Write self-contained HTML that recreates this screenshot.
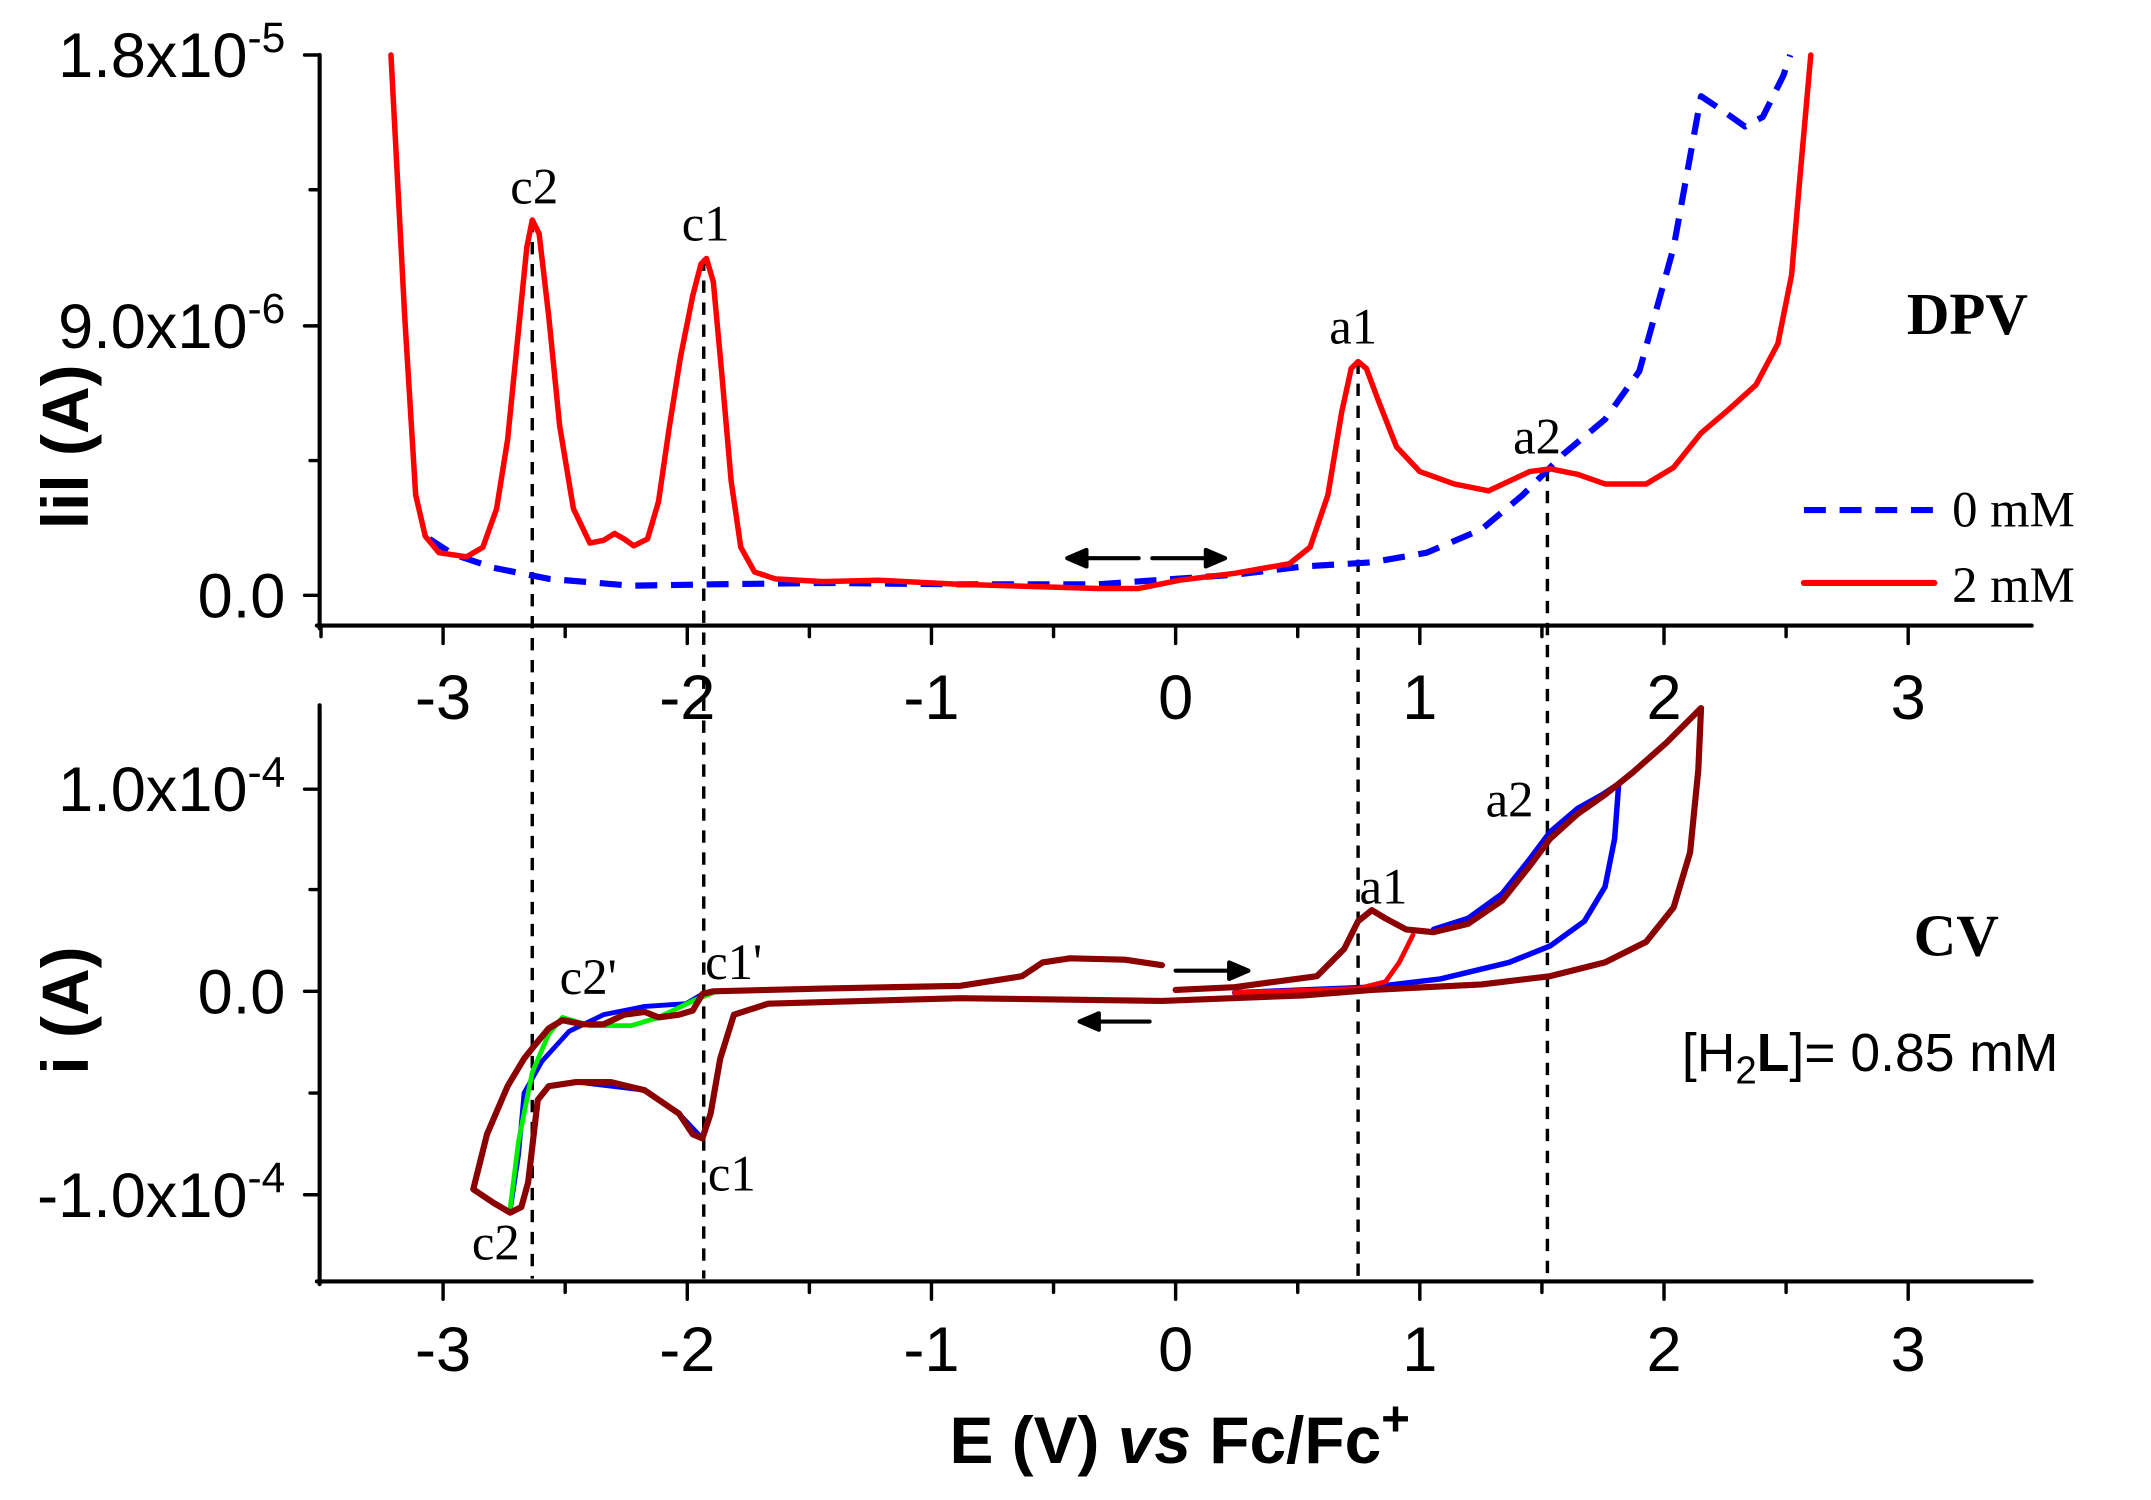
<!DOCTYPE html>
<html><head><style>html,body{margin:0;padding:0;background:#fff}svg{display:block}</style></head><body>
<svg width="2151" height="1500" viewBox="0 0 1568 1091" preserveAspectRatio="none" xmlns="http://www.w3.org/2000/svg" stroke-linejoin="round" stroke-linecap="round">
<g stroke="#000" stroke-width="3" fill="none">
<line x1="233" y1="40" x2="233" y2="457"/><line x1="231" y1="455" x2="1481" y2="455"/>
<line x1="233" y1="513" x2="233" y2="934"/><line x1="231" y1="932" x2="1481" y2="932"/>
</g>
<g stroke="#000" stroke-width="2.5">
<line x1="233" y1="40" x2="222" y2="40"/><line x1="233" y1="237" x2="222" y2="237"/><line x1="233" y1="433" x2="222" y2="433"/>
<line x1="233" y1="138" x2="226" y2="138"/><line x1="233" y1="335" x2="226" y2="335"/>
<line x1="233" y1="574" x2="222" y2="574"/><line x1="233" y1="721" x2="222" y2="721"/><line x1="233" y1="869" x2="222" y2="869"/>
<line x1="233" y1="647" x2="226" y2="647"/><line x1="233" y1="795" x2="226" y2="795"/>
</g>
<g stroke="#000" stroke-width="2.5">
<line x1="323" y1="455" x2="323" y2="468"/><line x1="501" y1="455" x2="501" y2="468"/><line x1="679" y1="455" x2="679" y2="468"/><line x1="857" y1="455" x2="857" y2="468"/><line x1="1035" y1="455" x2="1035" y2="468"/><line x1="1213" y1="455" x2="1213" y2="468"/><line x1="1391" y1="455" x2="1391" y2="468"/>
<line x1="412" y1="455" x2="412" y2="463"/><line x1="590" y1="455" x2="590" y2="463"/><line x1="768" y1="455" x2="768" y2="463"/><line x1="946" y1="455" x2="946" y2="463"/><line x1="1124" y1="455" x2="1124" y2="463"/><line x1="1302" y1="455" x2="1302" y2="463"/><line x1="234" y1="455" x2="234" y2="463"/>
<line x1="323" y1="932" x2="323" y2="945"/><line x1="501" y1="932" x2="501" y2="945"/><line x1="679" y1="932" x2="679" y2="945"/><line x1="857" y1="932" x2="857" y2="945"/><line x1="1035" y1="932" x2="1035" y2="945"/><line x1="1213" y1="932" x2="1213" y2="945"/><line x1="1391" y1="932" x2="1391" y2="945"/>
<line x1="412" y1="932" x2="412" y2="940"/><line x1="590" y1="932" x2="590" y2="940"/><line x1="768" y1="932" x2="768" y2="940"/><line x1="946" y1="932" x2="946" y2="940"/><line x1="1124" y1="932" x2="1124" y2="940"/><line x1="1302" y1="932" x2="1302" y2="940"/>
</g>
<g font-family="Liberation Sans, sans-serif" font-size="46" text-anchor="middle" fill="#000">
<text x="323" y="523">-3</text><text x="501" y="523">-2</text><text x="679" y="523">-1</text><text x="857" y="523">0</text><text x="1035" y="523">1</text><text x="1213" y="523">2</text><text x="1391" y="523">3</text>
<text x="323" y="997">-3</text><text x="501" y="997">-2</text><text x="679" y="997">-1</text><text x="857" y="997">0</text><text x="1035" y="997">1</text><text x="1213" y="997">2</text><text x="1391" y="997">3</text>
</g>
<g font-family="Liberation Sans, sans-serif" font-size="46" text-anchor="end" fill="#000">
<text x="208" y="56">1.8x10<tspan font-size="31" dy="-18">-5</tspan></text>
<text x="208" y="253">9.0x10<tspan font-size="31" dy="-18">-6</tspan></text>
<text x="208" y="449">0.0</text>
<text x="208" y="590">1.0x10<tspan font-size="31" dy="-18">-4</tspan></text>
<text x="208" y="737">0.0</text>
<text x="208" y="885">-1.0x10<tspan font-size="31" dy="-18">-4</tspan></text>
</g>
<g font-family="Liberation Sans, sans-serif" font-weight="bold" font-size="48" fill="#000">
<text transform="translate(64,325) rotate(-90)" text-anchor="middle">lil (A)</text>
<text transform="translate(64,735) rotate(-90)" text-anchor="middle">i (A)</text>
<text x="860" y="1064" text-anchor="middle">E (V) <tspan font-style="italic">vs</tspan> Fc/Fc<tspan font-size="36" dy="-20">+</tspan></text>
</g>
<g font-family="Liberation Serif, serif" font-size="37" fill="#000">
<text x="1390" y="243" font-weight="bold" font-size="43">DPV</text>
<text x="1395" y="695" font-weight="bold" font-size="43">CV</text>
<text x="1423" y="383">0 mM</text><text x="1423" y="438">2 mM</text>
<text x="372" y="148">c2</text><text x="497" y="175">c1</text><text x="969" y="250">a1</text><text x="1103" y="330">a2</text>
<text x="991" y="657">a1</text><text x="1083" y="594">a2</text>
<text x="408" y="723">c2'</text><text x="514" y="712">c1'</text><text x="516" y="866">c1</text><text x="344" y="916">c2</text>
</g>
<text x="1226" y="779" font-family="Liberation Sans, sans-serif" font-size="39">[H<tspan font-size="28" dy="9">2</tspan><tspan dy="-9" font-weight="bold">L</tspan>]= 0.85 mM</text>
<line x1="1315" y1="371" x2="1410" y2="371" stroke="#00f" stroke-width="4.5" stroke-dasharray="16,10" stroke-linecap="butt"/>
<line x1="1315" y1="424" x2="1410" y2="424" stroke="#f00" stroke-width="4.5"/>
<g stroke="#000" stroke-width="2.5" stroke-dasharray="9,7" stroke-linecap="butt">
<line x1="388" y1="160" x2="388" y2="930"/><line x1="513" y1="188" x2="513" y2="930"/><line x1="990" y1="263" x2="990" y2="930"/><line x1="1128" y1="341" x2="1128" y2="930"/>
</g>
<path d="M313,392 L330,403 L360,413 L400,421 L460,426 L520,425 L600,424 L700,425 L800,425 L900,418 L950,412 L1000,409 L1040,402 L1080,385 L1110,360 L1140,330 L1170,305 L1195,270 L1220,180 L1240,70 L1255,80 L1272,92 L1285,85 L1300,55 L1305,40" fill="none" stroke="#00f" stroke-width="4.5" stroke-dasharray="16,10" stroke-linecap="butt"/>
<path d="M285,40 L295,230 L303,360 L310,390 L320,402 L340,405 L352,398 L362,370 L370,320 L378,240 L384,180 L388,160 L393,170 L400,230 L408,310 L418,370 L430,395 L440,393 L448,388 L455,392 L462,397 L472,392 L480,365 L488,310 L496,260 L505,215 L511,192 L515,188 L520,205 L526,270 L533,350 L540,398 L550,416 L565,421 L600,423 L640,422 L700,425 L800,428 L830,428 L860,422 L900,417 L940,410 L955,398 L968,360 L978,300 L985,268 L990,263 L996,268 L1005,292 L1018,325 L1035,343 L1060,352 L1085,357 L1100,350 L1115,343 L1130,341 L1150,345 L1170,352 L1200,352 L1220,340 L1240,315 L1260,298 L1280,280 L1296,250 L1306,200 L1312,130 L1320,40" fill="none" stroke="#f00" stroke-width="4"/>
<g stroke="#000" stroke-width="3" fill="#000">
<line x1="790" y1="406" x2="830" y2="406"/><polygon points="778,406 792,400 792,412"/>
<line x1="840" y1="406" x2="880" y2="406"/><polygon points="893,406 879,400 879,412"/>
<line x1="857" y1="706" x2="897" y2="706"/><polygon points="910,706 896,700 896,712"/>
<line x1="800" y1="743" x2="838" y2="743"/><polygon points="787,743 801,737 801,749"/>
</g>
<path d="M512,723 L500,730 L470,732 L440,738 L415,750 L395,772 L382,795 L378,840 L372,880 M420,787 L470,793 L495,810 L512,828 L518,810" fill="none" stroke="#00f" stroke-width="3.5"/>
<path d="M520,722 L505,728 L480,740 L460,746 L430,746 L410,740 L400,752 L388,780 L378,830 L372,878" fill="none" stroke="#0e0" stroke-width="3.5"/>
<path d="M1180,570 L1177,610 L1170,645 L1155,670 L1130,688 L1100,700 L1050,712 L1000,718 L900,722" fill="none" stroke="#00f" stroke-width="4"/>
<path d="M1045,676 L1070,668 L1095,650 L1115,625 L1130,605 L1150,588 L1168,578 L1180,570" fill="none" stroke="#00f" stroke-width="4"/>
<path d="M1030,680 L1020,700 L1010,714 L990,719 L900,722" fill="none" stroke="#f00" stroke-width="3.5"/>
<path d="M847,702 L820,698 L780,697 L760,700 L745,710 L700,717 L600,719 L520,721 L512,723 L505,735 L495,738 L480,740 L470,736 L455,738 L440,745 L425,745 L410,742 L400,748 L390,760 L382,770 L370,790 L355,825 L345,865 L360,875 L372,882 L380,878 L385,860 L392,800 L400,790 L420,787 L445,787 L470,793 L495,810 L505,825 L512,828 L518,810 L525,770 L535,738 L560,730 L700,726 L847,728 L950,724 L1000,720 L1080,716 L1130,710 L1170,700 L1200,685 L1220,660 L1232,620 L1238,560 L1240,515 L1215,540 L1190,562 L1170,578 L1150,592 L1130,610 L1115,630 L1095,655 L1070,672 L1045,678 L1025,676 L1010,668 L1000,662 L990,670 L980,690 L960,710 L900,718 L857,720" fill="none" stroke="#8b0000" stroke-width="4.5"/>
</svg>
</body></html>
